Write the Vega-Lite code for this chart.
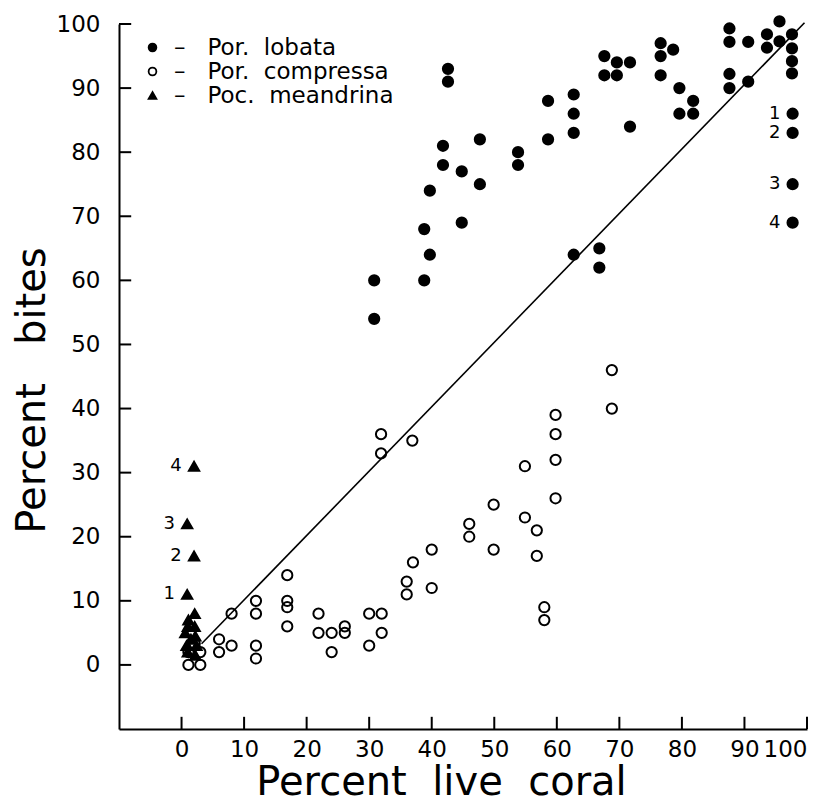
{
  "$schema": "https://vega.github.io/schema/vega-lite/v6.json",
  "autosize": "none",
  "width": 688,
  "height": 705,
  "padding": {"left": 119, "top": 24, "right": 27, "bottom": 69},
  "background": "white",
  "config": {
    "view": {"stroke": null},
    "font": "DejaVu Sans",
    "axis": {
      "grid": false,
      "zindex": 1,
      "domainColor": "black",
      "domainWidth": 2,
      "ticks": false,
      "labelFont": "DejaVu Sans",
      "labelFontSize": 23,
      "labelColor": "black",
      "titleFont": "DejaVu Sans",
      "titleFontSize": 40,
      "titleFontWeight": "normal",
      "titleColor": "black"
    },
    "legend": {
      "labelFont": "DejaVu Sans",
      "labelFontSize": 23,
      "labelColor": "black",
      "labelLimit": 0,
      "symbolSize": 60,
      "symbolStrokeWidth": 1.8,
      "labelOffset": 10,
      "rowPadding": 0
    }
  },
  "datasets": {
    "fit": [{"x": 3.2, "y": 3.3}, {"x": 99.6, "y": 100.2}],
    "tk": [{"t": 0}, {"t": 10}, {"t": 20}, {"t": 30}, {"t": 40}, {"t": 50}, {"t": 60}, {"t": 70}, {"t": 80}, {"t": 90}, {"t": 100}],
    "pts": [
      {"s": "Por. compressa", "x": 1.1, "y": 0, "l": ""},
      {"s": "Por. compressa", "x": 3.0, "y": 0, "l": ""},
      {"s": "Por. compressa", "x": 1.1, "y": 2, "l": ""},
      {"s": "Por. compressa", "x": 3.0, "y": 2, "l": ""},
      {"s": "Por. compressa", "x": 2.1, "y": 3.3, "l": ""},
      {"s": "Por. compressa", "x": 6.0, "y": 4, "l": ""},
      {"s": "Por. compressa", "x": 6.0, "y": 2, "l": ""},
      {"s": "Por. compressa", "x": 8.0, "y": 8, "l": ""},
      {"s": "Por. compressa", "x": 8.0, "y": 3, "l": ""},
      {"s": "Por. compressa", "x": 11.9, "y": 10, "l": ""},
      {"s": "Por. compressa", "x": 11.9, "y": 8, "l": ""},
      {"s": "Por. compressa", "x": 11.9, "y": 3, "l": ""},
      {"s": "Por. compressa", "x": 11.9, "y": 1, "l": ""},
      {"s": "Por. compressa", "x": 16.9, "y": 14, "l": ""},
      {"s": "Por. compressa", "x": 16.9, "y": 10, "l": ""},
      {"s": "Por. compressa", "x": 16.9, "y": 9, "l": ""},
      {"s": "Por. compressa", "x": 16.9, "y": 6, "l": ""},
      {"s": "Por. compressa", "x": 21.9, "y": 8, "l": ""},
      {"s": "Por. compressa", "x": 21.9, "y": 5, "l": ""},
      {"s": "Por. compressa", "x": 24.0, "y": 5, "l": ""},
      {"s": "Por. compressa", "x": 24.0, "y": 2, "l": ""},
      {"s": "Por. compressa", "x": 26.1, "y": 6, "l": ""},
      {"s": "Por. compressa", "x": 26.1, "y": 5, "l": ""},
      {"s": "Por. compressa", "x": 30.0, "y": 8, "l": ""},
      {"s": "Por. compressa", "x": 30.0, "y": 3, "l": ""},
      {"s": "Por. compressa", "x": 32.0, "y": 8, "l": ""},
      {"s": "Por. compressa", "x": 32.0, "y": 5, "l": ""},
      {"s": "Por. compressa", "x": 31.9, "y": 36, "l": ""},
      {"s": "Por. compressa", "x": 31.9, "y": 33, "l": ""},
      {"s": "Por. compressa", "x": 36.9, "y": 35, "l": ""},
      {"s": "Por. compressa", "x": 36.0, "y": 13, "l": ""},
      {"s": "Por. compressa", "x": 36.0, "y": 11, "l": ""},
      {"s": "Por. compressa", "x": 37.0, "y": 16, "l": ""},
      {"s": "Por. compressa", "x": 40.0, "y": 18, "l": ""},
      {"s": "Por. compressa", "x": 40.0, "y": 12, "l": ""},
      {"s": "Por. compressa", "x": 46.0, "y": 22, "l": ""},
      {"s": "Por. compressa", "x": 46.0, "y": 20, "l": ""},
      {"s": "Por. compressa", "x": 49.9, "y": 25, "l": ""},
      {"s": "Por. compressa", "x": 49.9, "y": 18, "l": ""},
      {"s": "Por. compressa", "x": 54.9, "y": 31, "l": ""},
      {"s": "Por. compressa", "x": 54.9, "y": 23, "l": ""},
      {"s": "Por. compressa", "x": 56.8, "y": 21, "l": ""},
      {"s": "Por. compressa", "x": 56.8, "y": 17, "l": ""},
      {"s": "Por. compressa", "x": 58.0, "y": 9, "l": ""},
      {"s": "Por. compressa", "x": 58.0, "y": 7, "l": ""},
      {"s": "Por. compressa", "x": 59.8, "y": 39, "l": ""},
      {"s": "Por. compressa", "x": 59.8, "y": 36, "l": ""},
      {"s": "Por. compressa", "x": 59.8, "y": 32, "l": ""},
      {"s": "Por. compressa", "x": 59.8, "y": 26, "l": ""},
      {"s": "Por. compressa", "x": 68.8, "y": 46, "l": ""},
      {"s": "Por. compressa", "x": 68.8, "y": 40, "l": ""},
      {"s": "Por. lobata", "x": 30.8, "y": 60, "l": ""},
      {"s": "Por. lobata", "x": 30.8, "y": 54, "l": ""},
      {"s": "Por. lobata", "x": 38.8, "y": 68, "l": ""},
      {"s": "Por. lobata", "x": 38.8, "y": 60, "l": ""},
      {"s": "Por. lobata", "x": 39.7, "y": 74, "l": ""},
      {"s": "Por. lobata", "x": 39.7, "y": 64, "l": ""},
      {"s": "Por. lobata", "x": 41.8, "y": 81, "l": ""},
      {"s": "Por. lobata", "x": 41.8, "y": 78, "l": ""},
      {"s": "Por. lobata", "x": 42.6, "y": 93, "l": ""},
      {"s": "Por. lobata", "x": 42.6, "y": 91, "l": ""},
      {"s": "Por. lobata", "x": 44.8, "y": 77, "l": ""},
      {"s": "Por. lobata", "x": 44.8, "y": 69, "l": ""},
      {"s": "Por. lobata", "x": 47.7, "y": 82, "l": ""},
      {"s": "Por. lobata", "x": 47.7, "y": 75, "l": ""},
      {"s": "Por. lobata", "x": 53.8, "y": 80, "l": ""},
      {"s": "Por. lobata", "x": 53.8, "y": 78, "l": ""},
      {"s": "Por. lobata", "x": 58.6, "y": 88, "l": ""},
      {"s": "Por. lobata", "x": 58.6, "y": 82, "l": ""},
      {"s": "Por. lobata", "x": 62.7, "y": 89, "l": ""},
      {"s": "Por. lobata", "x": 62.7, "y": 86, "l": ""},
      {"s": "Por. lobata", "x": 62.7, "y": 83, "l": ""},
      {"s": "Por. lobata", "x": 62.7, "y": 64, "l": ""},
      {"s": "Por. lobata", "x": 66.8, "y": 65, "l": ""},
      {"s": "Por. lobata", "x": 66.8, "y": 62, "l": ""},
      {"s": "Por. lobata", "x": 67.6, "y": 95, "l": ""},
      {"s": "Por. lobata", "x": 67.6, "y": 92, "l": ""},
      {"s": "Por. lobata", "x": 69.6, "y": 94, "l": ""},
      {"s": "Por. lobata", "x": 69.6, "y": 92, "l": ""},
      {"s": "Por. lobata", "x": 71.7, "y": 94, "l": ""},
      {"s": "Por. lobata", "x": 71.7, "y": 84, "l": ""},
      {"s": "Por. lobata", "x": 76.6, "y": 97, "l": ""},
      {"s": "Por. lobata", "x": 76.6, "y": 95, "l": ""},
      {"s": "Por. lobata", "x": 76.6, "y": 92, "l": ""},
      {"s": "Por. lobata", "x": 78.6, "y": 96, "l": ""},
      {"s": "Por. lobata", "x": 79.6, "y": 90, "l": ""},
      {"s": "Por. lobata", "x": 79.6, "y": 86, "l": ""},
      {"s": "Por. lobata", "x": 81.8, "y": 88, "l": ""},
      {"s": "Por. lobata", "x": 81.8, "y": 86, "l": ""},
      {"s": "Por. lobata", "x": 87.6, "y": 99.3, "l": ""},
      {"s": "Por. lobata", "x": 87.6, "y": 97.2, "l": ""},
      {"s": "Por. lobata", "x": 87.6, "y": 92.2, "l": ""},
      {"s": "Por. lobata", "x": 87.6, "y": 90, "l": ""},
      {"s": "Por. lobata", "x": 90.6, "y": 97.2, "l": ""},
      {"s": "Por. lobata", "x": 90.6, "y": 91, "l": ""},
      {"s": "Por. lobata", "x": 93.6, "y": 98.4, "l": ""},
      {"s": "Por. lobata", "x": 93.6, "y": 96.3, "l": ""},
      {"s": "Por. lobata", "x": 95.6, "y": 100.4, "l": ""},
      {"s": "Por. lobata", "x": 95.6, "y": 97.3, "l": ""},
      {"s": "Por. lobata", "x": 97.6, "y": 98.4, "l": ""},
      {"s": "Por. lobata", "x": 97.6, "y": 96.2, "l": ""},
      {"s": "Por. lobata", "x": 97.6, "y": 94.2, "l": ""},
      {"s": "Por. lobata", "x": 97.6, "y": 92.3, "l": ""},
      {"s": "Por. lobata", "x": 97.7, "y": 86, "l": "1"},
      {"s": "Por. lobata", "x": 97.7, "y": 83, "l": "2"},
      {"s": "Por. lobata", "x": 97.7, "y": 75, "l": "3"},
      {"s": "Por. lobata", "x": 97.7, "y": 69, "l": "4"},
      {"s": "Poc. meandrina", "x": 2.0, "y": 31, "l": "4"},
      {"s": "Poc. meandrina", "x": 0.9, "y": 22, "l": "3"},
      {"s": "Poc. meandrina", "x": 2.0, "y": 17, "l": "2"},
      {"s": "Poc. meandrina", "x": 0.9, "y": 11, "l": "1"},
      {"s": "Poc. meandrina", "x": 2.1, "y": 8, "l": ""},
      {"s": "Poc. meandrina", "x": 1.1, "y": 7, "l": ""},
      {"s": "Poc. meandrina", "x": 1.0, "y": 6, "l": ""},
      {"s": "Poc. meandrina", "x": 2.1, "y": 6, "l": ""},
      {"s": "Poc. meandrina", "x": 0.6, "y": 5, "l": ""},
      {"s": "Poc. meandrina", "x": 2.2, "y": 4.5, "l": ""},
      {"s": "Poc. meandrina", "x": 1.5, "y": 4, "l": ""},
      {"s": "Poc. meandrina", "x": 0.8, "y": 3, "l": ""},
      {"s": "Poc. meandrina", "x": 2.4, "y": 3, "l": ""},
      {"s": "Poc. meandrina", "x": 1.0, "y": 2, "l": ""},
      {"s": "Poc. meandrina", "x": 2.2, "y": 1.5, "l": ""}
    ]
  },
  "layer": [
    {
      "data": {"name": "fit"},
      "mark": {"type": "line", "color": "black", "strokeWidth": 1.6},
      "encoding": {
        "x": {"field": "x", "type": "quantitative", "scale": {"domain": [-10, 100], "nice": false, "zero": false},
              "axis": {"values": [0,10,20,30,40,50,60,70,80,90,100], "title": "Percent\u00a0 live\u00a0 coral", "labelPadding": 9, "titlePadding": 1, "titleX": 322}},
        "y": {"field": "y", "type": "quantitative", "scale": {"domain": [-10, 100], "nice": false, "zero": false},
              "axis": {"values": [0,10,20,30,40,50,60,70,80,90,100], "title": "Percent\u00a0\u00a0 bites", "labelPadding": 19, "titlePadding": 4, "titleY": 366}}
      }
    },
    {
      "data": {"name": "tk"},
      "mark": {"type": "rule", "color": "black", "strokeWidth": 2},
      "encoding": {
        "x": {"field": "t", "type": "quantitative"},
        "y": {"datum": -10, "type": "quantitative"},
        "y2": {"datum": -8.1}
      }
    },
    {
      "data": {"name": "tk"},
      "mark": {"type": "rule", "color": "black", "strokeWidth": 2},
      "encoding": {
        "y": {"field": "t", "type": "quantitative"},
        "x": {"datum": -10, "type": "quantitative"},
        "x2": {"datum": -8.05}
      }
    },
    {
      "data": {"name": "pts"},
      "mark": {"type": "point", "stroke": "black", "strokeWidth": 2, "opacity": 1, "size": 105},
      "encoding": {
        "x": {"field": "x", "type": "quantitative"},
        "y": {"field": "y", "type": "quantitative"},
        "shape": {"field": "s", "type": "nominal",
                  "scale": {"domain": ["Por. lobata", "Por. compressa", "Poc. meandrina"], "range": ["circle", "circle", "triangle-up"]},
                  "legend": {"title": null, "orient": "none", "legendX": 22, "legendY": 12,
                             "labelExpr": "'–\u00a0\u00a0\u00a0' + replace(datum.label, ' ', '\u00a0\u00a0')"}},
        "fill": {"field": "s", "type": "nominal",
                 "scale": {"domain": ["Por. lobata", "Por. compressa", "Poc. meandrina"], "range": ["black", "rgba(0,0,0,0)", "black"]},
                 "legend": {"title": null, "orient": "none", "legendX": 22, "legendY": 12,
                            "labelExpr": "'–\u00a0\u00a0\u00a0' + replace(datum.label, ' ', '\u00a0\u00a0')"}}
      }
    },
    {
      "data": {"name": "pts"},
      "transform": [{"filter": "datum.l != ''"}],
      "mark": {"type": "text", "dx": -18, "fontSize": 18, "font": "DejaVu Sans", "color": "black", "align": "center", "baseline": "middle"},
      "encoding": {
        "x": {"field": "x", "type": "quantitative"},
        "y": {"field": "y", "type": "quantitative"},
        "text": {"field": "l", "type": "nominal"}
      }
    }
  ]
}
